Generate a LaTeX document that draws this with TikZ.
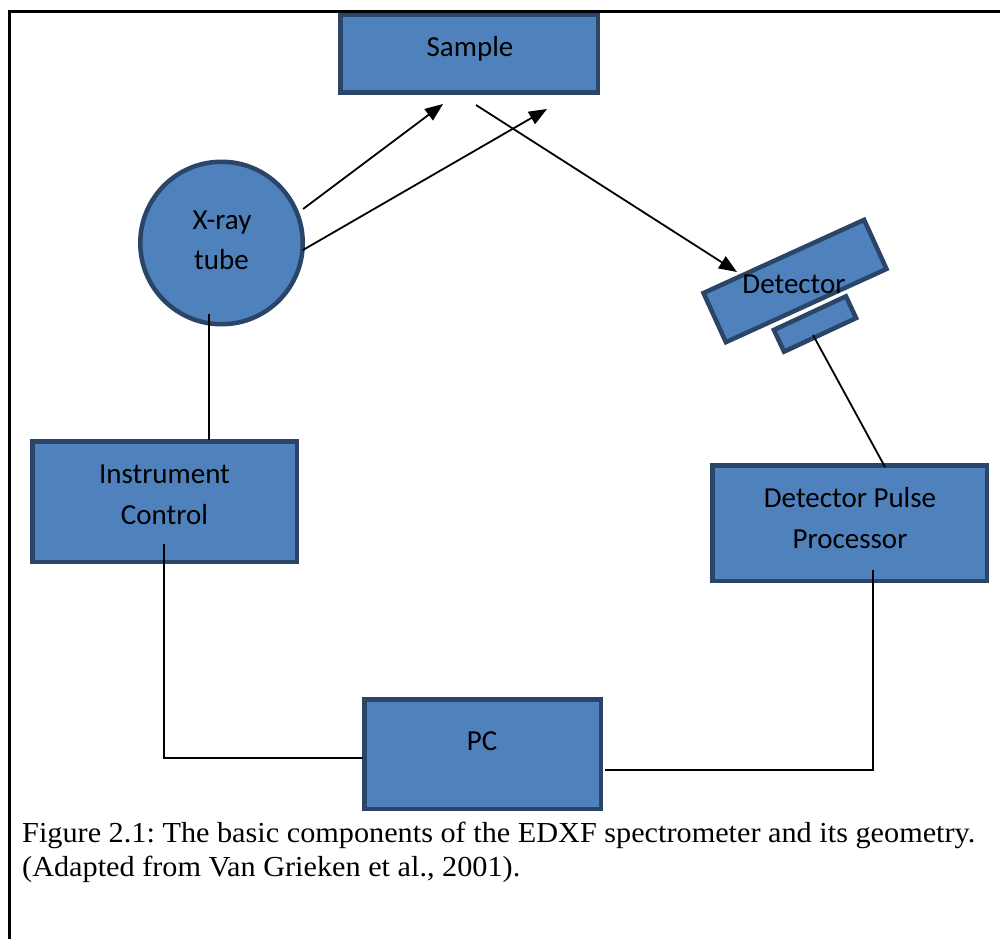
\documentclass[tikz,border=0pt]{standalone}
\usepackage{fontspec}
\setmainfont{Liberation Serif}
\newfontfamily\carlito{Carlito}
\usetikzlibrary{arrows.meta}
\definecolor{boxfill}{HTML}{4F81BD}
\definecolor{boxline}{HTML}{2A4568}
\frenchspacing
\begin{document}
\begin{tikzpicture}[x=1pt,y=-1pt,
  box/.style={draw=boxline, fill=boxfill, line width=4.5pt, inner sep=0pt},
  lbl/.style={font=\carlito\fontsize{29}{41}\selectfont, anchor=base, inner sep=0pt},
  captxt/.style={font=\fontsize{29}{34}\selectfont, anchor=base west, inner sep=0pt, xscale=1.043},
  conn/.style={line width=1.8pt, black},
  arr/.style={conn, -{Triangle[length=18pt,width=14pt]}},
  frame/.style={line width=2.5pt, black}]
\useasboundingbox (0,0) rectangle (1000,939);
% frame
\coordinate (fbl) at (9.3,939);
\coordinate (ftl) at (9.3,11.5);
\coordinate (ftr) at (1000,11.5);
\draw[frame] (fbl) -- (ftl) -- (ftr);
% boxes
\node[box, minimum width=257.5pt, minimum height=77.5pt] (sample) at (469,54) {};
\node[box, circle, minimum size=162.5pt] (tube) at (221.5,243) {};
\node[box, minimum width=264.5pt, minimum height=120.5pt] (ic) at (164.5,501.5) {};
\node[box, minimum width=274.5pt, minimum height=115.5pt] (dpp) at (849.5,523) {};
\node[box, minimum width=236.5pt, minimum height=109.5pt] (pc) at (482.5,754) {};
\node[box, rotate=25, minimum width=79.5pt, minimum height=24pt] (detsmall) at (815,324) {};
\node[box, rotate=24.5, minimum width=176.5pt, minimum height=54pt] (det) at (795,281) {};
% labels
\node[lbl] (tsample) at (470,57) {Sample};
\node[lbl] (ttube1) at (222,229) {X-ray};
\node[lbl] (ttube2) at (221.5,269) {tube};
\node[lbl] (tic1) at (164.5,483) {Instrument};
\node[lbl] (tic2) at (164.5,524) {Control};
\node[lbl] (tdpp1) at (850,507) {Detector Pulse};
\node[lbl] (tdpp2) at (850,548) {Processor};
\node[lbl] (tpc) at (482,750) {PC};
\node[lbl] (tdet) at (794,293) {Detector};
% connector end points
\coordinate (a1s) at (303,209);
\coordinate (a1e) at (443,104);
\coordinate (a2s) at (303,250);
\coordinate (a2e) at (547,109);
\coordinate (a3s) at (476,105);
\coordinate (a3e) at (737,272);
\coordinate (tubeB) at (209,314);
\coordinate (icT) at (209,440);
\coordinate (icB) at (164,544);
\coordinate (icC) at (164,758);
\coordinate (pcL) at (363,758);
\coordinate (dsB) at (813,335);
\coordinate (dppT) at (885,467);
\coordinate (dppB) at (873,570);
\coordinate (dppC) at (873,770);
\coordinate (pcR) at (605,770);
% arrows
\draw[arr] (a1s) -- (a1e);
\draw[arr] (a2s) -- (a2e);
\draw[arr] (a3s) -- (a3e);
% lines
\draw[conn] (tubeB) -- (icT);
\draw[conn] (icB) -- (icC) -- (pcL);
\draw[conn] (dsB) -- (dppT);
\draw[conn] (dppB) -- (dppC) -- (pcR);
% caption
\node[captxt] (caption1) at (22,842)
  {Figure 2.1: The basic components of the EDXF spectrometer and its geometry.};
\node[captxt] (caption2) at (22,876)
  {(Adapted from Van Grieken et al., 2001).};
\end{tikzpicture}
\end{document}
